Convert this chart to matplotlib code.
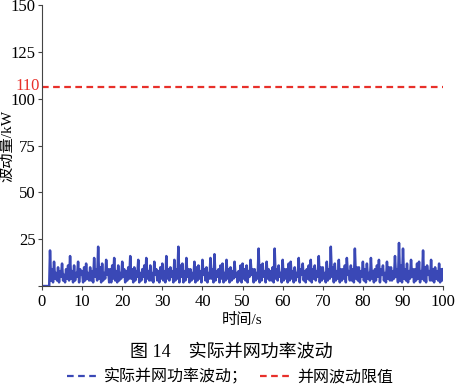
import numpy as np
import matplotlib
matplotlib.use("Agg")
import matplotlib.pyplot as plt
from matplotlib.lines import Line2D

plt.rcParams['font.family'] = ['Liberation Serif', 'Noto Sans CJK SC', 'DejaVu Sans']

# power fluctuation (kW), sampled every 0.25 s from t = 2 s to 100 s
fluct = [
    19, 3, 9, 2, 13, 4, 7, 3, 10, 2, 8, 5, 12, 3, 6, 2, 9, 4, 11, 3,
    16, 4, 8, 2, 11, 3, 7, 5, 13, 2, 9, 6, 8, 2, 10, 3, 12, 4, 7, 3,
    10, 3, 8, 2, 15, 5, 9, 3, 21, 4, 10, 2, 12, 3, 7, 4, 14, 6, 9, 2,
    9, 2, 11, 4, 15, 3, 8, 2, 11, 3, 7, 4, 13, 5, 9, 2, 8, 3, 10, 4,
    16, 4, 9, 2, 10, 3, 8, 5, 14, 2, 7, 3, 9, 5, 11, 2, 15, 4, 8, 3,
    11, 3, 7, 2, 13, 6, 9, 3, 8, 2, 10, 4, 12, 3, 8, 2, 16, 4, 9, 3,
    10, 5, 8, 2, 14, 3, 9, 4, 21, 2, 11, 5, 12, 2, 8, 3, 15, 5, 9, 2,
    9, 3, 7, 4, 13, 2, 10, 3, 11, 4, 8, 2, 14, 6, 9, 3, 10, 2, 7, 4,
    15, 4, 9, 2, 17, 3, 8, 5, 9, 2, 11, 4, 12, 2, 7, 3, 14, 4, 9, 2,
    10, 3, 8, 4, 13, 5, 7, 2, 8, 3, 11, 2, 12, 4, 9, 3, 11, 2, 8, 5,
    14, 6, 9, 2, 9, 3, 7, 4, 20, 2, 11, 3, 12, 5, 8, 2, 13, 4, 9, 3,
    8, 3, 10, 2, 20, 4, 9, 3, 11, 5, 7, 2, 14, 3, 9, 4, 9, 2, 12, 3,
    13, 4, 8, 2, 10, 3, 7, 5, 15, 2, 9, 6, 12, 3, 8, 2, 9, 4, 11, 3,
    14, 2, 9, 4, 11, 3, 8, 5, 16, 2, 10, 3, 10, 4, 7, 2, 13, 3, 9, 4,
    21, 5, 10, 2, 12, 3, 8, 4, 14, 2, 9, 3, 9, 4, 11, 2, 15, 6, 8, 3,
    11, 3, 9, 2, 20, 4, 10, 3, 10, 2, 8, 5, 13, 3, 9, 2, 12, 4, 7, 3,
    15, 4, 8, 2, 9, 3, 11, 5, 14, 2, 9, 6, 11, 3, 7, 2, 13, 4, 10, 3,
    10, 3, 8, 4, 16, 5, 9, 2, 23, 3, 11, 2, 20, 4, 9, 3, 12, 2, 8, 4,
    14, 5, 9, 2, 9, 3, 12, 4, 13, 2, 8, 4, 19, 3, 10, 2, 11, 6, 8, 3,
    14, 3, 9, 2, 10, 4, 8, 3, 12, 2, 9, 3, 9,
]
t = np.concatenate([[0, 1.8], np.arange(2, 100.001, 0.25)])
p = np.concatenate([[0, 0], fluct])

limit_y = 106   # where the dashed limit line is drawn
limit_label = "110"

blue = '#3a48b6'
red = '#e8302a'

fig = plt.figure(figsize=(4.6, 3.84), dpi=100)
ax = fig.add_axes([0.0913, 0.255, 0.872, 0.732])

ax.plot(t, p, color=blue, lw=1.8)
ax.plot([0, 100], [limit_y, limit_y], color=red, lw=1.6, ls=(0, (3, 2)))
ax.text(-0.6, limit_y + 1, limit_label, color=red, fontsize=12,
        ha='right', va='center')

ax.set_xlim(0, 100)
ax.set_ylim(0, 150)
ax.set_xticks(range(0, 101, 10))
ax.set_yticks([0, 25, 50, 75, 100, 125, 150])
ax.set_yticklabels(['', '25', '50', '75', '100', '125', '150'])
ax.tick_params(labelsize=12, length=3, width=0.8, color='#444444')
ax.tick_params(axis='y', pad=1.5)
ax.tick_params(axis='x', pad=3)
ax.spines['top'].set_visible(False)
ax.spines['right'].set_visible(False)
for s in ['left', 'bottom']:
    ax.spines[s].set_color('#444444')
    ax.spines[s].set_linewidth(0.8)

ax.set_xlabel('时间/s', fontsize=11, labelpad=2)
ax.set_ylabel('波动量/kW', fontsize=11)
ax.yaxis.set_label_coords(-0.068, 0.5)

fig.text(0.502, 0.083, '图 14　实际并网功率波动', fontsize=13,
         ha='center', va='center')
handles = [Line2D([], [], color=blue, lw=1.6, ls=(0, (3, 2))),
           Line2D([], [], color=red, lw=1.6, ls=(0, (3, 2)))]
fig.legend(handles=handles, labels=['实际并网功率波动；', '并网波动限值'],
           loc='center', bbox_to_anchor=(0.5, 0.018),
           ncol=2, frameon=False, fontsize=11.5, handlelength=1.8,
           handletextpad=0.5, columnspacing=0.8)

fig.savefig('out.png', dpi=100)
